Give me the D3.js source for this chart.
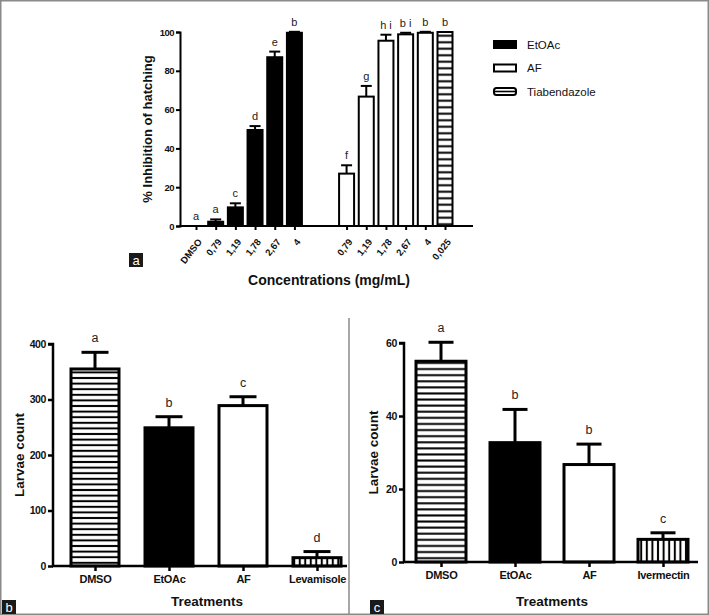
<!DOCTYPE html>
<html><head><meta charset="utf-8">
<script src="https://cdn.jsdelivr.net/npm/d3@7"></script>
<style>
html,body{margin:0;padding:0;background:#fff;}
svg{display:block;}
.ta{font-family:"Liberation Sans",Arial,sans-serif;font-weight:bold;}
.tn{font-family:"Liberation Sans",Arial,sans-serif;font-weight:bold;}
</style></head>
<body>
<svg id="fig" width="709" height="615"></svg>
<script>
// ---------- Panel a data ----------
const aTickLabels = ["DMSO","0,79","1,19","1,78","2,67","4","0,79","1,19","1,78","2,67","4","0,025"];
const aGroups = ["EtOAc","EtOAc","EtOAc","EtOAc","EtOAc","EtOAc","AF","AF","AF","AF","AF","Tiabendazole"];
const aValues = [0, 2.2, 9.6, 49.5, 87, 99.6, 27, 66.7, 95.5, 98.8, 99.6, 100];
const aErrors = [0, 1.2, 2.1, 2.0, 2.9, 0.5, 4.3, 5.5, 3.1, 0.8, 0.5, 0];
const aLetters = ["a","a","c","d","e","b","f","g","h i","b i","b","b"];
const aYTicks = [0,20,40,60,80,100];
const legendItems = ["EtOAc","AF","Tiabendazole"];

// ---------- Panel b data ----------
const bCategories = ["DMSO","EtOAc","AF","Levamisole"];
const bValues = [355, 249, 289, 15];
const bErrors = [30, 20, 16, 11];
const bLetters = ["a","b","c","d"];
const bYTicks = [0,100,200,300,400];

// ---------- Panel c data ----------
const cCategories = ["DMSO","EtOAc","AF","Ivermectin"];
const cValues = [55, 32.7, 26.7, 6.2];
const cErrors = [5.2, 9.1, 5.6, 1.8];
const cLetters = ["a","b","b","c"];
const cYTicks = [0,20,40,60];

const svg = d3.select("#fig");
const defs = svg.append("defs");

function hStripe(id, gap, sw){
  const p = defs.append("pattern").attr("id", id).attr("patternUnits","userSpaceOnUse")
    .attr("width", 10).attr("height", gap);
  p.append("rect").attr("width",10).attr("height",gap).attr("fill","#fff");
  p.append("line").attr("x1",0).attr("x2",10).attr("y1",gap/2).attr("y2",gap/2)
    .attr("stroke","#000").attr("stroke-width",sw);
}
function vStripe(id, gap, sw){
  const p = defs.append("pattern").attr("id", id).attr("patternUnits","userSpaceOnUse")
    .attr("width", gap).attr("height", 10);
  p.append("rect").attr("width",gap).attr("height",10).attr("fill","#fff");
  p.append("line").attr("y1",0).attr("y2",10).attr("x1",gap/2).attr("x2",gap/2)
    .attr("stroke","#000").attr("stroke-width",sw);
}
hStripe("hsA", 6.5, 2);
hStripe("hsB", 5.6, 2);
hStripe("hsC", 6.1, 2);
vStripe("vsB", 5.5, 2);
vStripe("vsC", 5.6, 2);

// outer frame
svg.append("rect").attr("x",0.75).attr("y",0.75).attr("width",707.5).attr("height",613.5)
  .attr("fill","none").attr("stroke","#8a8a8a").attr("stroke-width",1.5);
svg.append("line").attr("x1",349).attr("x2",349).attr("y1",318).attr("y2",615)
  .attr("stroke","#8a8a8a").attr("stroke-width",1.5);

function panelLabel(x, y, t){
  svg.append("rect").attr("x",x).attr("y",y).attr("width",14).attr("height",14).attr("fill","#1a1a1a");
  svg.append("text").attr("x",x+7).attr("y",y+11.5).attr("text-anchor","middle")
    .attr("fill","#fff").attr("font-family","Liberation Sans, Arial, sans-serif").attr("font-size",13).text(t);
}

// ================= Panel a =================
{
  const g = svg.append("g");
  const slot = i => i < 6 ? i : i + 1.65;
  const x = d3.scaleLinear().domain([0, 12.65]).range([196, 445]);
  const y = d3.scaleLinear().domain([0, 100]).range([226, 32]);
  const bw = 15;
  const fills = {EtOAc:"#000", AF:"#fff", Tiabendazole:"url(#hsA)"};

  g.selectAll("rect.bar").data(aValues).join("rect").attr("class","bar")
    .attr("x",(d,i)=>x(slot(i))-bw/2).attr("width",bw)
    .attr("y",d=>y(d)).attr("height",d=>y(0)-y(d))
    .attr("fill",(d,i)=>fills[aGroups[i]]).attr("stroke","#000").attr("stroke-width",2)
    .attr("display",d=>d>0?null:"none");
  const eb = g.selectAll("g.err").data(aValues).join("g").attr("class","err")
    .attr("display",(d,i)=>aErrors[i]>0.3?null:"none");
  eb.append("line").attr("x1",(d,i)=>x(slot(i))).attr("x2",(d,i)=>x(slot(i)))
    .attr("y1",d=>y(d)).attr("y2",(d,i)=>y(d+aErrors[i])).attr("stroke","#000").attr("stroke-width",2);
  eb.append("line").attr("x1",(d,i)=>x(slot(i))-5.5).attr("x2",(d,i)=>x(slot(i))+5.5)
    .attr("y1",(d,i)=>y(d+aErrors[i])).attr("y2",(d,i)=>y(d+aErrors[i])).attr("stroke","#000").attr("stroke-width",2);
  g.selectAll("text.let").data(aLetters).join("text").attr("class","let")
    .attr("x",(d,i)=>x(slot(i))).attr("y",(d,i)=>y(aValues[i]+aErrors[i])-6)
    .attr("text-anchor","middle").attr("font-family","Liberation Sans, Arial, sans-serif")
    .attr("font-size",11).attr("fill","#222").text(d=>d);

  const ya = g.append("g").attr("transform","translate(180,0)")
    .call(d3.axisLeft(y).tickValues(aYTicks).tickSize(4).tickPadding(2));
  ya.selectAll("path,line").attr("stroke","#000").attr("stroke-width",2);
  ya.selectAll("text").attr("class","ta").attr("font-size",9.5).attr("letter-spacing",-0.5).attr("fill","#111");
  const xa = g.append("g").attr("transform",`translate(0,${y(0)})`)
    .call(d3.axisBottom(x).tickValues(aValues.map((d,i)=>slot(i))).tickFormat((d,i)=>aTickLabels[i]).tickSize(4));
  xa.select("path.domain").remove();
  xa.selectAll("line").attr("stroke","#000").attr("stroke-width",2);
  xa.selectAll("text").attr("class","ta").attr("font-size",9.5).attr("fill","#111")
    .attr("text-anchor","end").attr("y",0).attr("dy",0).attr("transform","translate(6,16) rotate(-52)");
  g.append("line").attr("x1",179).attr("x2",473).attr("y1",y(0)).attr("y2",y(0))
    .attr("stroke","#000").attr("stroke-width",2);

  g.append("text").attr("class","ta").attr("font-size",13).attr("fill","#111")
    .attr("transform",`translate(152,${(y(0)+y(100))/2}) rotate(-90)`).attr("text-anchor","middle")
    .text("% Inhibition of hatching");
  g.append("text").attr("class","ta").attr("font-size",14).attr("fill","#111")
    .attr("x",329).attr("y",285).attr("text-anchor","middle").text("Concentrations (mg/mL)");

  const lg = g.selectAll("g.leg").data(legendItems).join("g").attr("class","leg")
    .attr("transform",(d,i)=>`translate(494,${41 + i*23.5})`);
  lg.append("rect").attr("width",22).attr("height",7).attr("rx",(d,i)=>i===2?2.5:0)
    .attr("fill",(d,i)=>i===0?"#000":"#fff").attr("stroke","#000").attr("stroke-width",2);
  lg.filter((d,i)=>i===2).append("line").attr("x1",1).attr("x2",21).attr("y1",3.5).attr("y2",3.5)
    .attr("stroke","#000").attr("stroke-width",1.6);
  lg.append("text").attr("x",33).attr("y",7.5).attr("font-family","Liberation Sans, Arial, sans-serif")
    .attr("font-size",11.5).attr("fill","#111").text(d=>d);

  panelLabel(129, 253, "a");
}

// ================= Panels b, c =================
function lowerPanel(opt){
  const g = svg.append("g");
  const x = d3.scalePoint().domain(opt.cats).range(opt.xr);
  const y = d3.scaleLinear().domain([0, opt.ymax]).range(opt.yr);
  const bw = opt.bw;
  g.selectAll("rect.bar").data(opt.vals).join("rect").attr("class","bar")
    .attr("x",(d,i)=>x(opt.cats[i])-bw/2).attr("width",bw)
    .attr("y",d=>y(d)).attr("height",d=>y(0)-y(d))
    .attr("fill",(d,i)=>opt.fills[i]).attr("stroke","#000").attr("stroke-width",3);
  const eb = g.selectAll("g.err").data(opt.vals).join("g");
  eb.append("line").attr("x1",(d,i)=>x(opt.cats[i])).attr("x2",(d,i)=>x(opt.cats[i]))
    .attr("y1",d=>y(d)).attr("y2",(d,i)=>y(d+opt.errs[i])).attr("stroke","#000").attr("stroke-width",3);
  eb.append("line").attr("x1",(d,i)=>x(opt.cats[i])-opt.cap/2).attr("x2",(d,i)=>x(opt.cats[i])+opt.cap/2)
    .attr("y1",(d,i)=>y(d+opt.errs[i])).attr("y2",(d,i)=>y(d+opt.errs[i])).attr("stroke","#000").attr("stroke-width",3);
  g.selectAll("text.let").data(opt.lets).join("text")
    .attr("x",(d,i)=>x(opt.cats[i])).attr("y",(d,i)=>y(opt.vals[i]+opt.errs[i])-10)
    .attr("text-anchor","middle").attr("font-family","Liberation Sans, Arial, sans-serif")
    .attr("font-size",12.5).attr("fill","#222").text(d=>d);

  const ya = g.append("g").attr("transform",`translate(${opt.ax},0)`)
    .call(d3.axisLeft(y).tickValues(opt.yt).tickSize(5).tickPadding(2));
  ya.selectAll("path,line").attr("stroke","#000").attr("stroke-width",2.5);
  ya.select("path.domain").attr("d",`M-5,${y(opt.ymax)}H0V${y(0)}`);
  ya.selectAll("text").attr("class","tn").attr("font-size",10.5).attr("letter-spacing",-0.4).attr("fill","#111");
  const xa = g.append("g").attr("transform",`translate(0,${y(0)})`)
    .call(d3.axisBottom(x).tickSize(5).tickPadding(4));
  xa.select("path.domain").remove();
  xa.selectAll("line").attr("stroke","#000").attr("stroke-width",2.5);
  xa.selectAll("text").attr("class","tn").attr("font-size",11).attr("letter-spacing",-0.3).attr("fill","#111");
  g.append("line").attr("x1",opt.ax-1).attr("x2",opt.xend).attr("y1",y(0)).attr("y2",y(0))
    .attr("stroke","#000").attr("stroke-width",2.5);

  g.append("text").attr("class","tn").attr("font-size",13.5).attr("fill","#111")
    .attr("transform",`translate(${opt.ytx},${(y(0)+y(opt.ymax))/2}) rotate(-90)`).attr("text-anchor","middle")
    .text("Larvae count");
  g.append("text").attr("class","tn").attr("font-size",13.5).attr("fill","#111")
    .attr("x",opt.xtx).attr("y",606).attr("text-anchor","middle").text("Treatments");
}

lowerPanel({cats:bCategories, vals:bValues, errs:bErrors, lets:bLetters, yt:bYTicks, ymax:400,
  xr:[95,317], yr:[566,344], bw:48, cap:27, ax:53, xend:347, ytx:24, xtx:207,
  fills:["url(#hsB)","#000","#fff","url(#vsB)"]});
lowerPanel({cats:cCategories, vals:cValues, errs:cErrors, lets:cLetters, yt:cYTicks, ymax:60,
  xr:[441,663], yr:[562,343], bw:50, cap:25, ax:404, xend:698, ytx:378, xtx:552,
  fills:["url(#hsC)","#000","#fff","url(#vsC)"]});

panelLabel(2, 600, "b");
panelLabel(370, 600, "c");
</script>
</body></html>
